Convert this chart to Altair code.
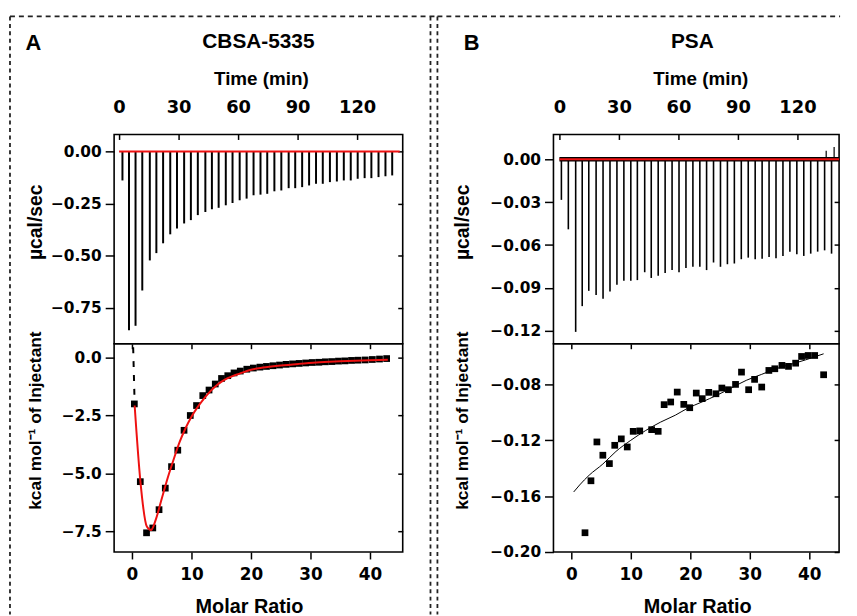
import altair as alt
import pandas as pd

# ---------------- data ----------------
# Panel A (CBSA-5335) raw ITC trace: injection times (min) and peak depths (ucal/sec)
time_A = [1.7, 5.0, 8.3, 11.7, 15.5, 18.8, 22.2, 25.8, 29.2, 32.8, 36.2, 39.7, 43.5, 46.8,
          50.2, 53.8, 57.2, 60.8, 64.3, 67.8, 71.3, 74.7, 78.3, 81.8, 85.5, 88.8, 92.3, 95.8,
          99.3, 102.7, 106.3, 109.8, 113.3, 116.8, 120.3, 123.8, 127.2, 130.8, 134.3, 137.7]
depth_A = [-0.139, -0.856, -0.835, -0.666, -0.522, -0.487, -0.44, -0.397, -0.369, -0.345,
           -0.329, -0.305, -0.29, -0.277, -0.27, -0.258, -0.247, -0.234, -0.226, -0.21,
           -0.207, -0.203, -0.191, -0.187, -0.176, -0.176, -0.171, -0.163, -0.155, -0.155,
           -0.147, -0.144, -0.139, -0.139, -0.131, -0.128, -0.128, -0.123, -0.119, -0.115]
base_time_A = [0.0, 141.5]
base_val_A = [0.0, 0.0]

# Panel B (PSA) raw ITC trace
time_B = [1.0, 4.5, 8.2, 11.5, 14.8, 18.5, 22.0, 25.5, 29.0, 32.5, 36.0, 39.3, 43.0, 46.3,
          49.8, 53.3, 56.8, 60.3, 63.8, 67.3, 70.8, 74.2, 77.7, 81.2, 84.7, 88.2, 91.7, 95.2,
          98.7, 102.2, 105.7, 109.2, 112.7, 116.2, 119.7, 123.2, 126.7, 130.2, 133.7, 137.2]
depth_B = [-0.0284, -0.049, -0.1207, -0.1027, -0.092, -0.095, -0.0976, -0.0925, -0.0877,
           -0.085, -0.085, -0.0845, -0.079, -0.083, -0.0815, -0.0796, -0.0775, -0.079,
           -0.076, -0.0752, -0.0752, -0.0775, -0.0722, -0.0752, -0.0734, -0.0729, -0.0699,
           -0.0688, -0.0699, -0.0695, -0.0683, -0.0692, -0.0676, -0.0646, -0.0665, -0.0676,
           -0.066, -0.0646, -0.0637, -0.066]
up_time_B = [134.5, 138.5]
up_val_B = [0.006, 0.0085]
base_time_B = [0.0, 141.0]
base_val_B = [0.0, 0.0]

# Panel A integrated heats (kcal/mol of injectant) vs molar ratio
mr_A = [0.4, 1.4, 2.45, 3.5, 4.55, 5.6, 6.65, 7.7, 8.75, 9.8, 10.85, 11.9, 12.95, 14.0,
        15.05, 16.1, 17.15, 18.2, 19.3, 20.4, 21.5, 22.6, 23.7, 24.8, 25.9, 27.0, 28.1,
        29.2, 30.3, 31.4, 32.5, 33.6, 34.7, 35.8, 36.9, 38.0, 39.2, 40.4, 41.6, 42.8]
heat_A = [-2.0, -5.36, -7.57, -7.36, -6.57, -5.64, -4.71, -4.0, -3.14, -2.5, -2.07, -1.64,
          -1.4, -1.14, -0.9, -0.78, -0.66, -0.58, -0.5, -0.45, -0.41, -0.38, -0.35, -0.32,
          -0.29, -0.27, -0.25, -0.23, -0.21, -0.2, -0.18, -0.17, -0.15, -0.14, -0.12, -0.11,
          -0.1, -0.08, -0.06, -0.04]
fit_mr_A = [0.45, 1.4, 2.5, 3.2, 4.0, 5.0, 6.0, 7.0, 8.0, 9.0, 10.0, 11.0, 12.0, 13.0, 14.0,
            15.0, 16.0, 17.0, 18.0, 20.0, 22.0, 25.0, 28.0, 31.0, 35.0, 40.0, 43.0]
fit_heat_A = [-2.07, -5.3, -7.3, -7.45, -7.0, -6.1, -5.2, -4.4, -3.65, -3.05, -2.55, -2.15,
              -1.8, -1.5, -1.25, -1.05, -0.9, -0.79, -0.7, -0.52, -0.43, -0.34, -0.27,
              -0.21, -0.16, -0.11, -0.09]
start_mr_A = [0.2, 0.45]
start_heat_A = [0.45, -2.0]

# Panel B integrated heats
mr_B = [2.3, 3.3, 4.3, 5.3, 6.4, 7.3, 8.4, 9.4, 10.4, 11.5, 13.5, 14.6, 15.6, 16.7, 17.8,
        18.9, 19.9, 21.0, 22.0, 23.1, 24.3, 25.3, 26.4, 27.6, 28.6, 29.8, 30.8, 32.0, 33.2,
        34.2, 35.4, 36.5, 37.7, 38.7, 39.8, 40.9, 42.4]
heat_B = [-0.1862, -0.149, -0.1212, -0.1307, -0.1367, -0.1236, -0.119, -0.1248, -0.1136,
          -0.1133, -0.1124, -0.1136, -0.0945, -0.0926, -0.0855, -0.0943, -0.0967, -0.0862,
          -0.0902, -0.0857, -0.0867, -0.0826, -0.0838, -0.08, -0.0712, -0.0838, -0.0764,
          -0.0819, -0.07, -0.0688, -0.0664, -0.0671, -0.0648, -0.06, -0.0593, -0.0593, -0.0731]
fit_mr_B = [0.4, 1.4, 3.0, 5.3, 7.5, 10.0, 12.5, 15.0, 17.5, 19.4, 22.0, 24.4, 27.0, 29.4,
            32.0, 34.4, 37.0, 39.4, 42.4]
fit_heat_B = [-0.157, -0.152, -0.145, -0.137, -0.128, -0.12, -0.113, -0.107, -0.102, -0.0974,
              -0.0925, -0.0879, -0.0823, -0.0771, -0.0728, -0.0688, -0.0655, -0.0624, -0.0581]

# tick values
time_ticks = [0, 30, 60, 90, 120]
mr_ticks = [0, 10, 20, 30, 40]
yA_top_ticks = [0.0, -0.25, -0.5, -0.75]
yA_bot_ticks = [0.0, -2.5, -5.0, -7.5]
yB_top_ticks = [0.0, -0.03, -0.06, -0.09, -0.12]
yB_bot_ticks = [-0.08, -0.12, -0.16, -0.2]

# ---------------- layout constants ----------------
W_A, W_B, H_TOP, H_BOT = 291, 288, 211, 210
LABEL_FONT = "DejaVu Sans"
TITLE_FONT = "Liberation Sans"
RED = "#ee1111"
DASH = "#222222"


def sc(lo, hi):
    return alt.Scale(domain=[lo, hi], nice=False, zero=False)


def left_axis(ticks, fmt, title, tx, ty, tsize):
    return alt.Axis(orient="left", values=ticks, format=fmt, title=title, tickSize=9,
                    labelPadding=4, labelFontSize=15.5, titleFontSize=tsize, titleX=tx,
                    titleY=ty, titleAngle=270, titleAlign="center", titleBaseline="middle")


def right_inner(ticks, w):
    return alt.Axis(orient="left", offset=-w, values=ticks, labels=False, title=None, tickSize=5)


def top_inner(ticks, h):
    return alt.Axis(orient="bottom", offset=-h, values=ticks, labels=False, title=None, tickSize=5)


def time_axis(tx):
    return alt.Axis(orient="top", values=time_ticks, format="d", title="Time (min)",
                    tickSize=0, labelPadding=22, labelBaseline="alphabetic", labelFontSize=18,
                    titleFontSize=19, titleX=tx, titleY=-50, titleBaseline="alphabetic")


def mr_axis(tx):
    return alt.Axis(orient="bottom", values=mr_ticks, format="d", title="Molar Ratio",
                    tickSize=7, labelPadding=21, labelBaseline="alphabetic", labelFontSize=17,
                    titleFontSize=20, titleX=tx, titleY=61, titleBaseline="alphabetic")


one = pd.DataFrame({"k": [0]})


def raw_panel(times, depths, base_t, base_v, xs, ys, ticks_y, w, title, tdx, ytx, noisy, sw):
    df = pd.DataFrame({"t": times, "d": depths, "z": [0.0] * len(times)})
    spikes = alt.Chart(df).mark_rule(color="black", strokeWidth=sw).encode(
        x=alt.X("t:Q", scale=xs, axis=time_axis(148)),
        y=alt.Y("d:Q", scale=ys, axis=left_axis(ticks_y, ".2f", "µcal/sec", ytx, 88, 19.5)),
        y2="z:Q",
    )
    bdf = pd.DataFrame({"t": base_t, "v": base_v})
    layers = [spikes]
    if noisy:
        layers.append(alt.Chart(bdf).mark_line(color="black", strokeWidth=4.5).encode(
            x=alt.X("t:Q", scale=xs, axis=None), y=alt.Y("v:Q", scale=ys, axis=None)))
        udf = pd.DataFrame({"t": up_time_B, "v": up_val_B, "z": [0.0, 0.0]})
        layers.append(alt.Chart(udf).mark_rule(color="black", strokeWidth=1.2).encode(
            x=alt.X("t:Q", scale=xs, axis=None), y=alt.Y("v:Q", scale=ys, axis=None), y2="z:Q"))
    layers.append(alt.Chart(bdf).mark_line(color=RED, strokeWidth=2).encode(
        x=alt.X("t:Q", scale=xs, axis=None), y=alt.Y("v:Q", scale=ys, axis=None)))
    layers.append(alt.Chart(df).mark_point(opacity=0).encode(
        x=alt.X("t:Q", scale=xs, axis=top_inner(time_ticks, H_TOP)),
        y=alt.Y("d:Q", scale=ys, axis=right_inner(ticks_y, w))))
    return alt.layer(*layers).resolve_axis(x="independent", y="independent").properties(
        width=w, height=H_TOP,
        title=alt.TitleParams(title, font=TITLE_FONT, fontSize=21, fontWeight="bold",
                              color="black", anchor="middle", baseline="alphabetic",
                              offset=1.5, dx=tdx))


def deco(x_left, x_right_h, x_vlines, letter, letter_x):
    hline = alt.Chart(one).mark_rule(color=DASH, strokeWidth=1.8, strokeDash=[5, 4]).encode(
        x=alt.value(x_left), x2=alt.value(x_right_h), y=alt.value(-330))
    out = [hline]
    for xv in x_vlines:
        out.append(alt.Chart(one).mark_rule(color=DASH, strokeWidth=1.8, strokeDash=[4, 3.5]).encode(
            x=alt.value(xv), y=alt.value(-330), y2=alt.value(273)))
    out.append(alt.Chart(pd.DataFrame({"lab": [letter]})).mark_text(
        font=TITLE_FONT, fontSize=22, fontWeight="bold", color="black", align="center",
        baseline="alphabetic").encode(text="lab:N", x=alt.value(letter_x), y=alt.value(-296)))
    return out


def heat_panel(mr, heat, fmr, fheat, xs, ys, ticks_y, fmt, w, fit_color, fit_width, ytx, mtx,
               decos, extra=None):
    df = pd.DataFrame({"m": mr, "h": heat})
    pts = alt.Chart(df).mark_square(size=46, color="black", opacity=1).encode(
        x=alt.X("m:Q", scale=xs, axis=mr_axis(mtx)),
        y=alt.Y("h:Q", scale=ys, axis=left_axis(ticks_y, fmt, "kcal mol⁻¹ of Injectant",
                                                 ytx, 77, 17.5)),
    )
    fdf = pd.DataFrame({"m": fmr, "h": fheat})
    fit = alt.Chart(fdf).mark_line(color=fit_color, strokeWidth=fit_width,
                                   interpolate="monotone").encode(
        x=alt.X("m:Q", scale=xs, axis=None), y=alt.Y("h:Q", scale=ys, axis=None))
    layers = [pts]
    if extra is not None:
        layers.append(extra)
    layers.append(fit)
    layers.append(alt.Chart(df).mark_point(opacity=0).encode(
        x=alt.X("m:Q", scale=xs, axis=top_inner(mr_ticks, H_BOT)),
        y=alt.Y("h:Q", scale=ys, axis=right_inner(ticks_y, w))))
    layers += decos
    return alt.layer(*layers).resolve_axis(x="independent", y="independent").properties(
        width=w, height=H_BOT)


top_A = raw_panel(time_A, depth_A, base_time_A, base_val_A, sc(-2.5, 143), sc(-0.921, 0.081),
                  yA_top_ticks, W_A, "CBSA-5335", 0, -79, False, 2.0)
top_B = raw_panel(time_B, depth_B, base_time_B, base_val_B, sc(-3, 141), sc(-0.129, 0.0173),
                  yB_top_ticks, W_B, "PSA", -4, -92, True, 1.6)

xs_mA = sc(-3, 45.5)
ys_hA = sc(-8.4, 0.6)
start_A = alt.Chart(pd.DataFrame({"m": start_mr_A, "h": start_heat_A})).mark_line(
    color="black", strokeWidth=2, strokeDash=[6, 8]).encode(
    x=alt.X("m:Q", scale=xs_mA, axis=None), y=alt.Y("h:Q", scale=ys_hA, axis=None))

bot_A = heat_panel(mr_A, heat_A, fit_mr_A, fit_heat_A, xs_mA, ys_hA, yA_bot_ticks, ".1f",
                   W_A, RED, 2, -79, 136, deco(-105, 326, [-105, 319], "A", -81.5), start_A)
bot_B = heat_panel(mr_B, heat_B, fit_mr_B, fit_heat_B, sc(-3, 45), sc(-0.2, -0.0509),
                   yB_bot_ticks, ".2f", W_B, "black", 1, -92, 145,
                   deco(-117, 289, [-117], "B", -82.5))

chart = alt.concat(top_A, top_B, bot_A, bot_B, columns=2,
                   spacing={"row": 0, "column": 152}, bounds="flush").properties(
    padding={"left": 0, "top": 4, "right": 0, "bottom": 0},
    background="white",
).configure_axis(
    labelFont=LABEL_FONT, labelFontWeight="bold", labelColor="black",
    titleFont=TITLE_FONT, titleFontWeight="bold", titleColor="black",
    tickColor="black", tickWidth=1.5, domain=False, grid=False,
    labelFlush=False, labelOverlap=False,
).configure_view(stroke="black", strokeWidth=1.6)

chart.save("out.html", embed_options={"renderer": "svg", "actions": False})
